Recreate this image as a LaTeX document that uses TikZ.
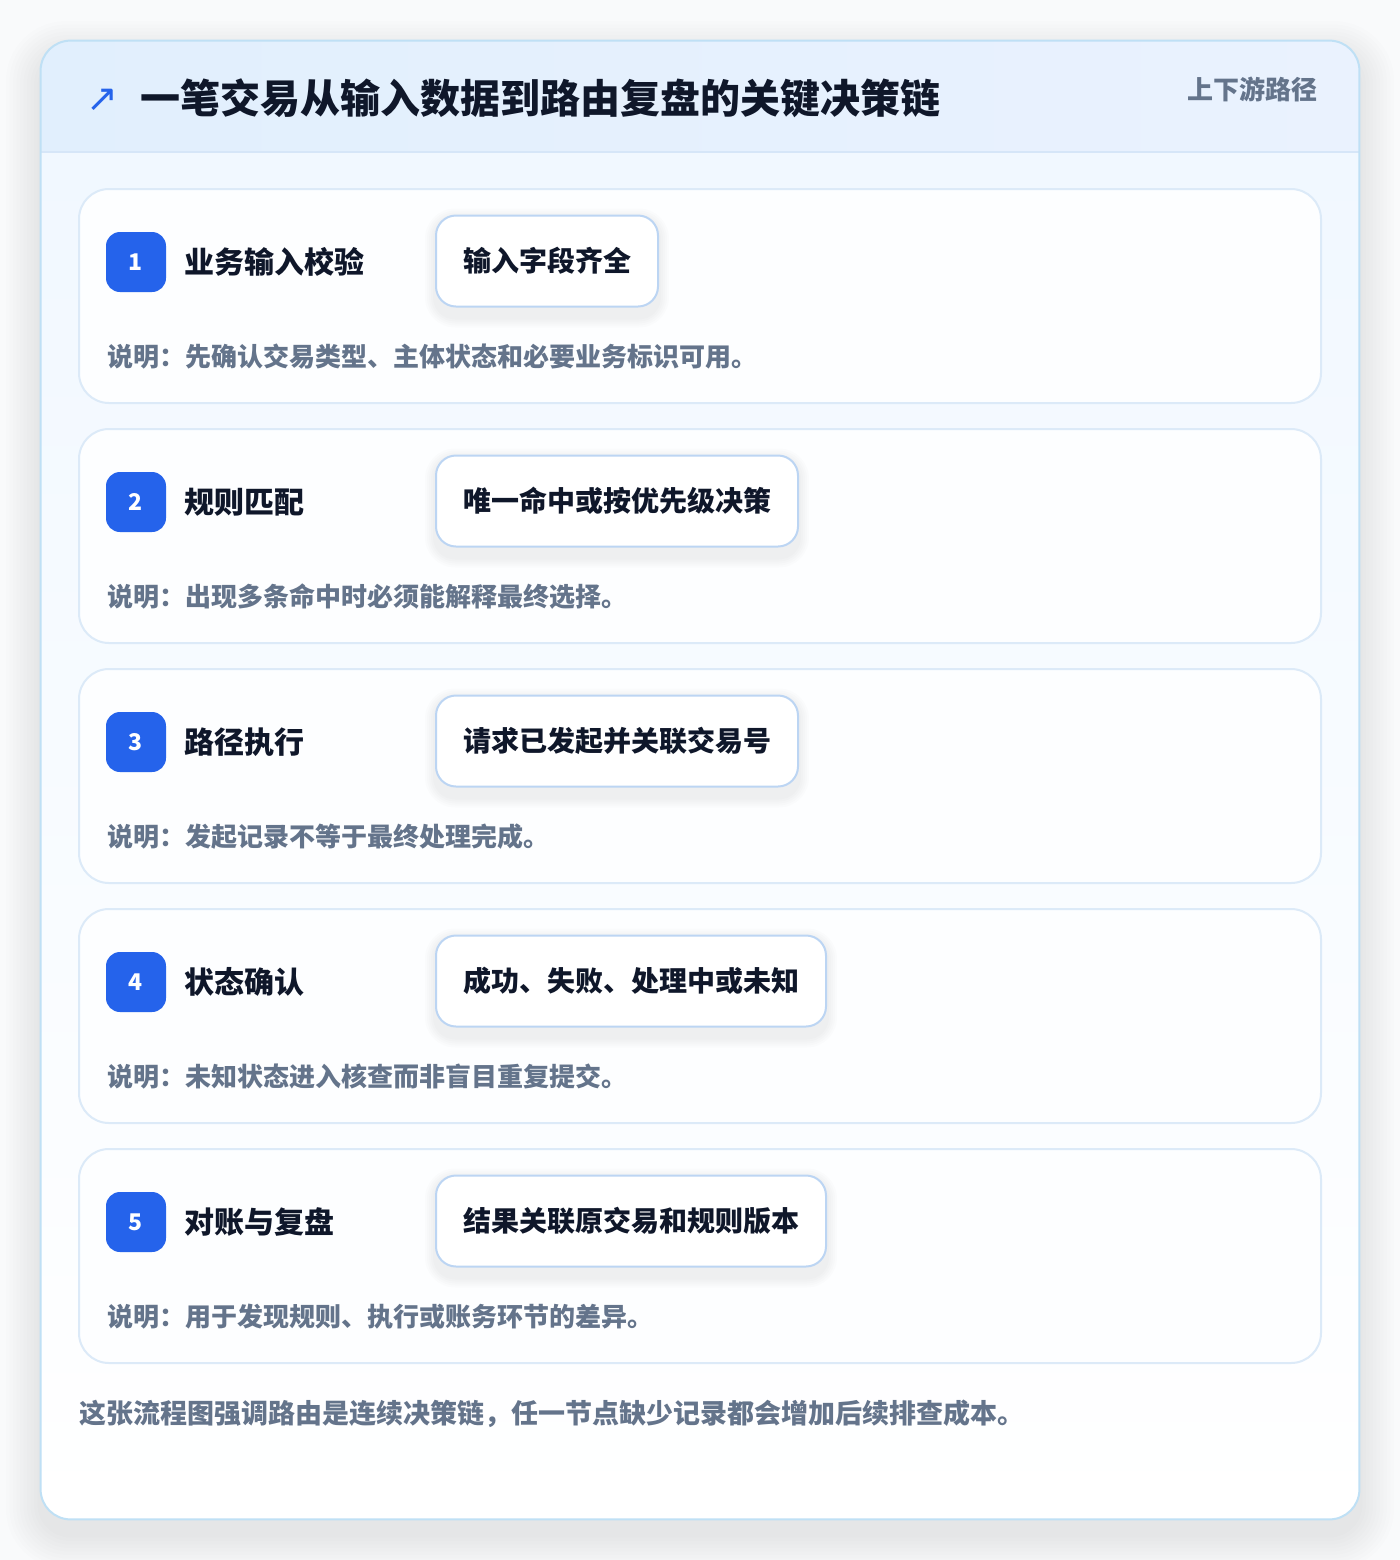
\documentclass[tikz,border=0pt]{standalone}
\usepackage{fontspec}
\newfontfamily\cjk{Noto Sans CJK SC}
\newfontfamily\symb{DejaVu Sans}
\usepackage{tikz}
\usetikzlibrary{positioning}

\definecolor{pageBg}{HTML}{F9FAFB}
\definecolor{panelLine}{HTML}{BFE0F5}
\definecolor{headLeft}{HTML}{E1EFFD}
\definecolor{headRight}{HTML}{EAF2FE}
\definecolor{headLine}{HTML}{D6E6F8}
\definecolor{bodyTop}{HTML}{F1F8FF}
\definecolor{cardLine}{HTML}{DCEAF8}
\definecolor{cardFill}{HTML}{FDFEFF}
\definecolor{pillLine}{HTML}{BCD5F3}
\definecolor{badgeBlue}{HTML}{2563EB}
\definecolor{ink}{HTML}{0F172A}
\definecolor{noteInk}{HTML}{64748B}

\tikzset{
  stepcard/.style={draw=cardLine, line width=1pt, fill=cardFill, rounded corners=15pt,
    minimum width=621pt, minimum height=107pt, inner sep=0pt},
  badge/.style={fill=badgeBlue, rounded corners=7pt, minimum size=30pt, inner sep=0pt,
    text=white, font=\cjk\bfseries\fontsize{11.5}{11.5}\selectfont},
  steptitle/.style={anchor=west, inner sep=0pt, text=ink,
    font=\cjk\bfseries\fontsize{15}{15}\selectfont},
  pill/.style={anchor=west, draw=pillLine, fill=white, line width=1pt, rounded corners=10pt,
    minimum height=45.5pt, inner xsep=13.5pt, inner ysep=0pt, text=ink,
    font=\cjk\bfseries\fontsize{14}{14}\selectfont},
  note/.style={anchor=west, inner sep=0pt, text=noteInk,
    font=\cjk\bfseries\fontsize{13}{13}\selectfont},
  haze/.style={black, opacity=#1},
}

\begin{document}
\begin{tikzpicture}[x=0.5pt, y=-0.5pt]
  \fill[pageBg] (0,0) rectangle (1400,1560);
  \useasboundingbox (0,0) rectangle (1400,1560);

  %---------------- panel ----------------
  \foreach \k in {1,...,10}
    \fill[haze=0.008, rounded corners=15pt+\k*1.5pt]
      (41-\k*3.5,56-\k*3.5) rectangle (1359+\k*3.5,1534+\k*3.5);
  \node[fill=white, rounded corners=15pt, minimum width=659pt, minimum height=739pt, inner sep=0pt]
    (panel) at (700,780) {};
  \begin{scope}
    \clip[rounded corners=15pt] (41,41) rectangle (1359,1519);
    \shade[top color=bodyTop, bottom color=white] (41,152) rectangle (1359,1519);
    \shade[left color=headLeft, right color=headRight] (41,41) rectangle (1359,152);
  \end{scope}
  \draw[headLine, line width=1pt] (41,152) -- (1359,152);
  \draw[panelLine, line width=1pt, rounded corners=15pt] (panel.south west) rectangle (panel.north east);

  %---------------- header ----------------
  \node[text=badgeBlue, inner sep=0pt, font=\symb\fontsize{19}{19}\selectfont] (icon) at (102,100) {↗};
  \node[anchor=west, inner sep=0pt, text=ink, font=\cjk\bfseries\fontsize{20}{20}\selectfont]
    (headline) at (140,98) {一笔交易从输入数据到路由复盘的关键决策链};
  \node[anchor=east, inner sep=0pt, text=noteInk, font=\cjk\bfseries\fontsize{13}{13}\selectfont]
    (scope) at (1318,89) {上下游路径};

  %---------------- steps ----------------
  \foreach \i/\top/\name/\check/\why in {
    1/189/业务输入校验/输入字段齐全/说明：先确认交易类型、主体状态和必要业务标识可用。,
    2/429/规则匹配/唯一命中或按优先级决策/说明：出现多条命中时必须能解释最终选择。,
    3/669/路径执行/请求已发起并关联交易号/说明：发起记录不等于最终处理完成。,
    4/909/状态确认/成功、失败、处理中或未知/说明：未知状态进入核查而非盲目重复提交。,
    5/1149/对账与复盘/结果关联原交易和规则版本/说明：用于发现规则、执行或账务环节的差异。}{
    \node[stepcard] (card\i) at (700,\top+107) {};
    \node[badge] (num\i) at (136,\top+73) {\i};
    \node[steptitle, right=9pt of num\i] (title\i) {\name};
    \path (435,\top+72) node[pill, draw=none, fill=none] (ghost\i) {\phantom{\check}};
    \foreach \k in {1,...,5}
      \fill[haze=0.012, rounded corners=10pt+\k*1pt]
        ([xshift=-\k*1pt, yshift=-2pt+\k*1pt]ghost\i.north west)
        rectangle ([xshift=\k*1pt, yshift=-5pt-\k*1pt]ghost\i.south east);
    \node[pill] (check\i) at (435,\top+72) {\check};
    \node[note] (note\i) at (107,\top+168) {\why};
  }

  %---------------- footer ----------------
  \node[anchor=west, inner sep=0pt, text=noteInk, font=\cjk\bfseries\fontsize{13.5}{13.5}\selectfont]
    (summary) at (79,1414) {这张流程图强调路由是连续决策链，任一节点缺少记录都会增加后续排查成本。};
\end{tikzpicture}
\end{document}
